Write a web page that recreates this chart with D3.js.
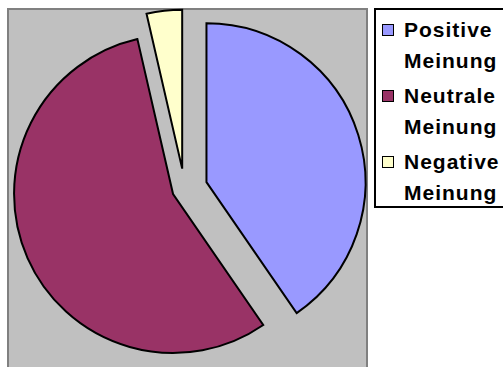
<!DOCTYPE html>
<html>
<head>
<meta charset="utf-8">
<script src="https://cdn.jsdelivr.net/npm/d3@7"></script>
<style>
  html, body { margin: 0; padding: 0; background: #ffffff; }
  svg { display: block; }
  text { font-family: "Liberation Sans", Arial, sans-serif; font-weight: bold; }
</style>
</head>
<body>
<svg id="chart" width="503" height="367"></svg>
<script>
// Opinion shares (percent)
const categories = ["Positive Meinung", "Neutrale Meinung", "Negative Meinung"];
const values = [40.4, 56.0, 3.6];
const colors = ["#9999FF", "#993366", "#FFFFCC"];

// How far each slice is pulled out from the pie centre (px)
const explode = [23, 12.5, 20.5];

const svg = d3.select("#chart");

// Plot area
const plot = { x: 8, y: 9, w: 359, h: 400 };
svg.append("rect")
  .attr("x", plot.x).attr("y", plot.y)
  .attr("width", plot.w).attr("height", plot.h)
  .attr("fill", "#C0C0C0")
  .attr("stroke", "#808080")
  .attr("stroke-width", 2);

// Pie
const cx = 184.5, cy = 189, radius = 159;
const pie = d3.pie().sort(null).value(d => d.value).startAngle(0).endAngle(2 * Math.PI);
const arcs = pie(categories.map((c, i) => ({ name: c, value: values[i], i })));
const arc = d3.arc().innerRadius(0).outerRadius(radius);

const g = svg.append("g").attr("transform", `translate(${cx},${cy})`);
g.selectAll("path.slice")
  .data(arcs)
  .join("path")
  .attr("class", "slice")
  .attr("transform", d => {
    const mid = (d.startAngle + d.endAngle) / 2;
    const off = explode[d.data.i];
    return `translate(${off * Math.sin(mid)},${-off * Math.cos(mid)})`;
  })
  .attr("d", arc)
  .attr("fill", d => colors[d.data.i])
  .attr("stroke", "#000")
  .attr("stroke-width", 2)
  .attr("stroke-linejoin", "miter");

// Legend
const legend = svg.append("g");
legend.append("rect")
  .attr("x", 375).attr("y", 9)
  .attr("width", 160).attr("height", 198)
  .attr("fill", "#ffffff")
  .attr("stroke", "#000")
  .attr("stroke-width", 2);

const entryY = d3.scaleLinear().domain([0, 1]).range([37, 103]);
const lineGap = 31;

categories.forEach((c, i) => {
  const y0 = entryY(i);
  legend.append("rect")
    .attr("x", 382.5).attr("y", y0 - 12.5)
    .attr("width", 11).attr("height", 11)
    .attr("fill", colors[i])
    .attr("stroke", "#000")
    .attr("stroke-width", 1);
  const words = c.split(" ");
  words.forEach((w, k) => {
    legend.append("text")
      .attr("x", 404)
      .attr("y", y0 + k * lineGap)
      .attr("font-size", 21)
      .attr("letter-spacing", 1)
      .attr("fill", "#000")
      .text(w);
  });
});
</script>
</body>
</html>
